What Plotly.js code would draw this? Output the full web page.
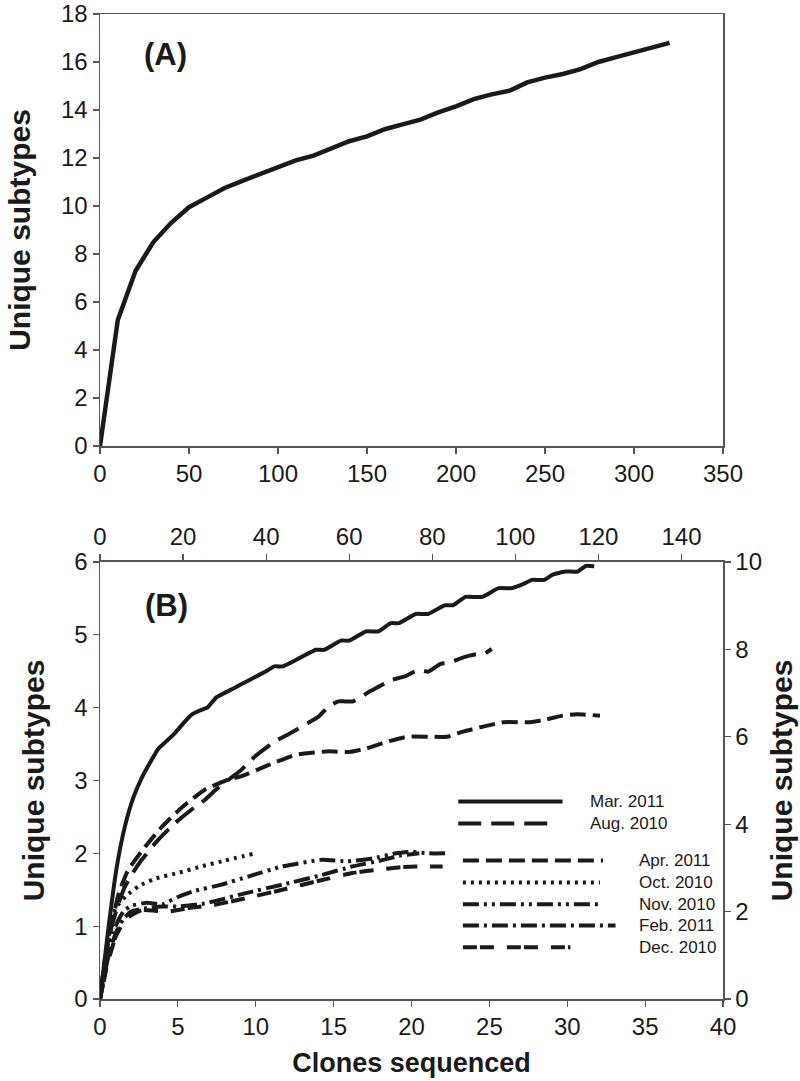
<!DOCTYPE html>
<html>
<head>
<meta charset="utf-8">
<script src="https://cdn.plot.ly/plotly-3.0.1.min.js"></script>
<style>html,body{margin:0;padding:0;background:#fff;}#chart{width:800px;height:1081px;}</style>
</head>
<body>
<div id="chart"></div>
<script>
// Panel A: all clones
const clonesA = [0,10,20,30,40,50,60,70,80,90,100,110,120,130,140,150,160,170,180,190,200,210,220,230,240,250,260,270,280,290,300,310,320];
const subtypesA = [0,5.25,7.3,8.5,9.3,9.95,10.35,10.75,11.05,11.35,11.6,11.9,12.1,12.4,12.7,12.9,13.2,13.4,13.6,13.9,14.15,14.45,14.65,14.8,15.15,15.35,15.5,15.7,16.0,16.2,16.4,16.6,16.8];

// Panel B: top/right axes series
const marX = [0,2,4,6,8,10,12,14,16,18,20,22,24,26,28,32,36,40,42,44,48,52,54,58,60,64,67,70,72,76,79,83,85,88,92,96,99,102,104,107,109,112,115,117,119];
const marY = [0,1.6,3.0,3.95,4.6,5.05,5.4,5.72,5.9,6.08,6.3,6.5,6.6,6.68,6.9,7.1,7.3,7.5,7.61,7.61,7.8,7.99,7.99,8.2,8.2,8.41,8.41,8.6,8.6,8.81,8.81,9.01,9.01,9.2,9.2,9.4,9.4,9.5,9.59,9.59,9.71,9.78,9.78,9.91,9.9];
const augX = [0,1,2.8,4.5,6,8,10,14,18,22,25.3,28,31,34,37.3,42,45.3,50,52.6,55,57.4,59,61,65,70.2,73.4,76.6,79.1,82,84,87,90.3,92.3,94.3];
const augY = [0,0.8,1.66,2.2,2.57,2.9,3.18,3.64,4.02,4.33,4.56,4.8,5.02,5.24,5.55,5.89,6.05,6.31,6.46,6.69,6.81,6.81,6.81,7.04,7.30,7.38,7.53,7.49,7.67,7.69,7.80,7.88,7.88,8.01];

// Panel B: bottom/left axes series
const aprX = [0,0.5,1.2,1.8,2.9,4,5.2,6.7,8.2,9.1,10.8,12.5,13.6,14.7,16,17.1,18.4,19.7,21.2,22.3,23.3,24.6,25.9,27.6,28.7,29.7,30.6,32.1];
const aprY = [0,0.77,1.45,1.77,2.09,2.37,2.62,2.87,3.01,3.06,3.21,3.35,3.38,3.40,3.39,3.44,3.53,3.60,3.60,3.60,3.67,3.74,3.80,3.80,3.84,3.89,3.91,3.89];
const octX = [0,0.5,1,1.7,2.5,3.5,5,6.5,8,9.8];
const octY = [0,0.8,1.25,1.42,1.55,1.65,1.73,1.82,1.9,1.99];
const novX = [0,0.5,1,1.5,2,3,4,5,6,7.8,9.5,11.7,14.2,15.9,17.5,19,20,21,22.5];
const novY = [0,0.6,1.0,1.2,1.28,1.32,1.30,1.40,1.48,1.57,1.68,1.82,1.91,1.89,1.93,2.0,2.02,2.0,2.0];
const febX = [0,0.5,1,1.5,2,3,4,5,6.7,9.3,11.7,14.2,16.2,18,19.3,20.5];
const febY = [0,0.55,0.9,1.1,1.2,1.25,1.27,1.27,1.31,1.45,1.57,1.70,1.82,1.9,1.97,2.0];
const decX = [0,0.5,1,1.5,2,2.7,4.4,5.7,7.3,9.3,11.7,14.2,16.2,18,19.3,20.5,22];
const decY = [0,0.5,0.85,1.05,1.15,1.22,1.20,1.25,1.29,1.38,1.50,1.63,1.73,1.78,1.81,1.82,1.82];

// tick values
const ticksAx = [0,50,100,150,200,250,300,350];
const ticksAy = [0,2,4,6,8,10,12,14,16,18];
const ticksBx = [0,5,10,15,20,25,30,35,40];
const ticksBy = [0,1,2,3,4,5,6];
const ticksBxTop = [0,20,40,60,80,100,120,140];
const ticksByRight = [0,2,4,6,8,10];

const INK = '#1a1a1a';
const AXC = '#555555';
const FONT = 'Liberation Sans, Arial, sans-serif';
const GAP_L = '\u2009\u200A';
const GAP_R = '\u2009';
const dashes = {
  "Mar. 2011": "solid",
  "Aug. 2010": "23px,10px",
  "Apr. 2011": "16px,7px",
  "Oct. 2010": "3px,5px",
  "Nov. 2010": "16px,5px,3px,5px,3px,5px",
  "Feb. 2011": "16px,5px,3px,5px",
  "Dec. 2010": "14px,3px,14px,13px"
};

function tr(x, y, name, xa, ya) {
  return {x: x, y: y, name: name, xaxis: xa, yaxis: ya, mode: 'lines', showlegend: false,
          line: {color: INK, width: 4, dash: dashes[name], shape: 'spline', smoothing: 0.4}, hoverinfo: 'skip'};
}

const traces = [
  {x: clonesA, y: subtypesA, xaxis: 'x', yaxis: 'y', mode: 'lines', showlegend: false,
   line: {color: INK, width: 4.5}, hoverinfo: 'skip'},
  tr(marX, marY, "Mar. 2011", 'x3', 'y3'),
  tr(augX, augY, "Aug. 2010", 'x3', 'y3'),
  tr(aprX, aprY, "Apr. 2011", 'x2', 'y2'),
  tr(octX, octY, "Oct. 2010", 'x2', 'y2'),
  tr(novX, novY, "Nov. 2010", 'x2', 'y2'),
  tr(febX, febY, "Feb. 2011", 'x2', 'y2'),
  tr(decX, decY, "Dec. 2010", 'x2', 'y2')
];

// legend keys (drawn as shapes + annotations in panel B coordinates)
const legendRows = [
  {name: "Mar. 2011", x0: 23.0, x1: 29.7, y: 2.71, tx: 31.3},
  {name: "Aug. 2010", x0: 23.0, x1: 29.0, y: 2.41, tx: 31.3},
  {name: "Apr. 2011", x0: 23.3, x1: 32.3, y: 1.90, tx: 34.5},
  {name: "Oct. 2010", x0: 23.3, x1: 32.1, y: 1.60, tx: 34.5},
  {name: "Nov. 2010", x0: 23.3, x1: 32.1, y: 1.30, tx: 34.5},
  {name: "Feb. 2011", x0: 23.3, x1: 33.1, y: 1.01, tx: 34.5},
  {name: "Dec. 2010", x0: 23.3, x1: 30.2, y: 0.71, tx: 34.5}
];
const shapes = legendRows.map(r => ({type: 'line', xref: 'x2', yref: 'y2', x0: r.x0, x1: r.x1, y0: r.y, y1: r.y,
  line: {color: INK, width: 4, dash: dashes[r.name]}}));
const annotations = legendRows.map(r => ({xref: 'x2', yref: 'y2', x: r.tx, y: r.y, text: r.name, showarrow: false,
  xanchor: 'left', yanchor: 'middle', font: {family: FONT, size: 17, color: INK}}));
annotations.push({xref: 'x', yref: 'y', x: 37, y: 16.3, text: '<b>(A)</b>', showarrow: false,
  font: {family: FONT, size: 31, color: INK}});
annotations.push({xref: 'x2', yref: 'y2', x: 4.3, y: 5.4, text: '<b>(B)</b>', showarrow: false,
  font: {family: FONT, size: 31, color: INK}});

const tickFont = {family: FONT, size: 24, color: INK};
const titleFont = {family: FONT, size: 27, color: INK};
const yTitleFont = {family: FONT, size: 30, color: INK};
const base = {showgrid: false, zeroline: false, showline: true, linecolor: AXC, linewidth: 1.5,
  ticks: 'outside', ticklen: 6, tickwidth: 1.2, tickcolor: AXC, tickfont: tickFont, tickmode: 'array',
  ticklabeloverflow: 'allow'};

const layout = {
  width: 800, height: 1081,
  margin: {l: 100, r: 77, t: 14, b: 82},
  paper_bgcolor: '#fff', plot_bgcolor: '#fff',
  showlegend: false,
  xaxis: Object.assign({}, base, {domain: [0, 1], anchor: 'y', range: [0, 350], tickvals: ticksAx, mirror: true}),
  yaxis: Object.assign({}, base, {domain: [0.5614, 1], anchor: 'x', range: [0, 18], tickvals: ticksAy, mirror: true,
    ticksuffix: GAP_L, title: {text: '<b>Unique subtypes</b>', font: yTitleFont, standoff: 21}}),
  xaxis2: Object.assign({}, base, {domain: [0, 1], anchor: 'y2', range: [0, 40], tickvals: ticksBx,
    title: {text: '<b>Clones sequenced</b>', font: titleFont, standoff: 14}}),
  yaxis2: Object.assign({}, base, {domain: [0, 0.4437], anchor: 'x2', range: [0, 6], tickvals: ticksBy,
    ticksuffix: GAP_L, title: {text: '<b>Unique subtypes</b>', font: yTitleFont, standoff: 21}}),
  xaxis3: Object.assign({}, base, {overlaying: 'x2', anchor: 'y2', side: 'top', range: [0, 150], tickvals: ticksBxTop}),
  yaxis3: Object.assign({}, base, {overlaying: 'y2', anchor: 'x2', side: 'right', range: [0, 10], tickvals: ticksByRight,
    tickprefix: GAP_R, title: {text: '<b>Unique subtypes</b>', font: yTitleFont, standoff: 10}}),
  shapes: shapes,
  annotations: annotations
};

Plotly.newPlot('chart', traces, layout, {staticPlot: true, displayModeBar: false});
</script>
</body>
</html>
